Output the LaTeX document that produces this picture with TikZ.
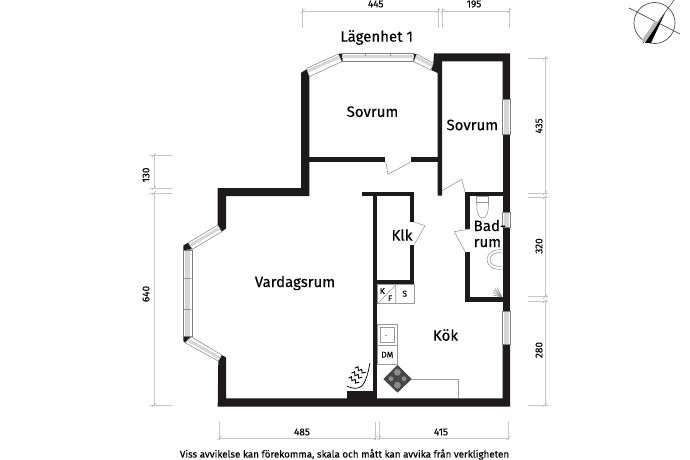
\documentclass[tikz,border=0pt]{standalone}
\usepackage{fontspec}
\setmainfont{Fira Sans}[FakeBold=0.25]
\definecolor{wallc}{HTML}{1C1A1B}
\definecolor{dimc}{HTML}{C6C6C6}
\tikzset{
 wall/.style={fill=wallc,draw=none},
 winframe/.style={fill=white,draw=black!50,line width=.5pt},
 winband/.style={draw=black!16,line width=3pt},
 fixture/.style={draw=black!40,line width=.6pt},
 doorleaf/.style={draw=black!40,line width=.6pt},
 dimline/.style={draw=dimc,line width=.9pt},
 tickmark/.style={draw=black!30,line width=.5pt},
 room/.style={font=\fontsize{15}{16}\selectfont,text=black,inner sep=0pt,align=center},
 dimtext/.style={font=\fontsize{10}{11}\selectfont,text=black,inner sep=0pt},
 small/.style={font=\fontsize{8.5}{9}\selectfont,text=black,inner sep=0pt},
 squig/.pic={\draw[black,line width=.9pt] (-6,-2.4) -- (-3,-3.8) -- (-2.6,.2) -- (.7,-1.2) -- (1.1,2.6) -- (4.8,1.7);}
}
\newcommand{\hslash}[2]{\draw[tickmark] (#1-2,#2+2) -- (#1+2,#2-2);}
\begin{document}
\begin{tikzpicture}[x=1pt,y=-1pt]
\useasboundingbox (0,0) rectangle (690,460);
% walls
\fill[wall] (301,72.7) -- (306.7,69.3) -- (309.3,76.7) -- (309.3,196) -- (226.2,196) -- (226.2,228.3) -- (221.7,231.7) -- (217.7,225) -- (217.7,188) -- (301,188) -- cycle;
\fill[wall] (309.3,157) rectangle (385,162);
\fill[wall] (411,157) rectangle (437.7,162);
\fill[wall] (434,53.5) -- (510,53.5) -- (510,99) -- (502.5,99) -- (502.5,61.5) -- (442,61.5) -- (442,195.7) -- (437.7,195.7) -- (437.7,73) -- (431,70) -- (433.3,63.3) -- cycle;
\fill[wall] (502.5,134) rectangle (510,212);
\fill[wall] (502.5,227) rectangle (510,311);
\fill[wall] (465.3,191.7) rectangle (502.5,195.9);
\fill[wall] (465.3,191.7) rectangle (470,229);
\fill[wall] (465.3,252) rectangle (470,302);
\fill[wall] (465.3,297.3) rectangle (502.5,302);
\fill[wall] (362,191.7) rectangle (414,196);
\fill[wall] (372.7,191.7) rectangle (377,398.5);
\fill[wall] (409.7,191.7) rectangle (414,222);
\fill[wall] (409.7,245) rectangle (414,284.5);
\fill[wall] (377,280) rectangle (414,284.5);
\fill[wall] (346.7,391) rectangle (377,398.5);
\fill[wall] (218.3,361) -- (221.7,355) -- (226.2,357.5) -- (226.2,398.4) -- (502.5,398.4) -- (502.5,344) -- (510,344) -- (510,406.5) -- (217.7,406.5) -- cycle;
% window wedges
\fill[wall] (338.3,53.7) -- (342,53.5) -- (342,61.7) -- cycle;
\fill[wall] (413.5,53.5) -- (417,54.5) -- (414,61.7) -- cycle;
\fill[wall] (183.3,245.5) -- (188.3,242.7) -- (192.3,249.3) -- (183.3,250) -- cycle;
\fill[wall] (183.3,335.7) -- (192.3,335.7) -- (191,343.3) -- (185,342.7) -- (183.3,341) -- cycle;
% windows
\draw[winframe] (342,53.5) rectangle (413.5,61.5);
\draw[winband] (342,56.5) -- (413.5,56.5);
\draw[black!40,line width=.5pt] (365,54) -- (365,56) (390,54) -- (390,56);
\draw[winframe] (306.7,68.3) -- (338.3,54) -- (341.7,61.7) -- (309.3,76.7) -- cycle;
\draw[winband] (308,71) -- (339.5,57);
\draw[winframe] (416.7,54) -- (433.3,63.3) -- (431,70) -- (413.8,61.7) -- cycle;
\draw[winband] (416,57) -- (432,65.5);
\draw[winframe] (502.5,99) rectangle (510,134);
\draw[black!16,line width=4.5pt] (506.5,99.5) -- (506.5,133.5);
\draw[winframe] (502.5,212) rectangle (510,227);
\draw[black!16,line width=4.5pt] (506.5,212.5) -- (506.5,226.5);
\draw[winframe] (502.5,311) rectangle (510,344);
\draw[black!16,line width=4.5pt] (506.5,311.5) -- (506.5,343.5);
\draw[winframe] (183.3,250) rectangle (192,336);
\draw[black!16,line width=4.5pt] (187.5,250.5) -- (187.5,335.5);
\draw[black!40,line width=.5pt] (184,278) -- (191,278) (184,309) -- (191,309);
\draw[winframe] (188.3,242.7) -- (217.7,225) -- (221.7,231.7) -- (192.3,249.3) -- cycle;
\draw[winband] (190,245.5) -- (219.5,228);
\draw[winframe] (185,342.7) -- (191,336.7) -- (221.7,355) -- (218.3,361) -- cycle;
\draw[winband] (188,340) -- (220,358);
% doors
\draw[doorleaf] (385.7,161.7) -- (388,174.3) -- (410.7,162);
\draw[doorleaf] (442,190.7) -- (461.7,179.3) -- (465,191.7);
\draw[doorleaf] (470,229) -- (454.3,231.7) -- (465.3,252);
\draw[doorleaf] (414,222) -- (425,225.7) -- (414,245);
% cabinets
\draw[fixture] (377,284.5) rectangle (414,303);
\draw[fixture] (395.7,284.5) -- (395.7,303) (378,303) -- (395.7,285);
\draw[fixture] (377,324) rectangle (397,345);
\draw[fixture] (380.7,327.7) rectangle (394.3,342.7);
\draw[fixture] (385,335) -- (387,335);
\draw[fixture] (377,345) rectangle (397,364);
\draw[fixture] (411,379) -- (458.7,379) -- (458.7,398.4);
\fill[black!72] (383.3,379) -- (397.5,365) -- (411.7,379) -- (397.5,392.7) -- cycle;
\fill[black!45] (397.4,372.3) circle (3.4) (397.4,385.2) circle (3.4) (391,378.7) circle (2.4) (404,378.7) circle (2.4);
% toilet, sink, shower
\draw[fixture] (476.7,196.7) rectangle (488.5,202);
\draw[fixture] (476.7,202) .. controls (476.7,212) and (478,218) .. (482.6,218) .. controls (487,218) and (488.5,212) .. (488.5,202);
\draw[fixture] (502.5,250) .. controls (494,248.5) and (487,253) .. (487,259.5) .. controls (487,266) and (494,270.5) .. (502.5,269);
\draw[fixture] (502.5,253) .. controls (495,251.5) and (490,255) .. (490,259.5) .. controls (490,264) and (495,267.5) .. (502.5,266);
\draw[fixture] (502,297) -- (493.5,290) (502,297) -- (495,288.5) (502,297) -- (497,287.5) (502,297) -- (493,292.5) (502,297) -- (493,295);
% fireplace
\draw[black,line width=.7pt] (346.7,386) .. controls (352,388.5) and (357,389.5) .. (361,386.5) .. controls (366,382.5) and (368,373) .. (370,363);
\pic at (354.5,380.5) {squig};
\pic at (357.5,375.5) {squig};
\pic at (361,370.5) {squig};
% texts
\node[room] (title) at (376.7,37.5) {Lägenhet 1};
\node[room] (sov1) at (372.5,111.7) {Sovrum};
\node[room] (sov2) at (472.3,125) {Sovrum};
\node[room] (klk) at (402,235) {Klk};
\node[room,align=left,anchor=west] (bad) at (473.5,233.5) {Bad-\\rum};
\node[room] (kok) at (445.5,335) {Kök};
\node[room] (vard) at (295,283) {Vardagsrum};
\node[small] (k) at (382.3,291) {K};
\node[small] (f) at (390,298.3) {F};
\node[small] (s) at (404.7,293.7) {S};
\node[small] (dm) at (387.3,354.7) {DM};
\node[font=\fontsize{9.8}{11}\selectfont,inner sep=0pt] (note) at (344.5,454.5) {Viss avvikelse kan förekomma, skala och mått kan avvika från verkligheten};
% top dimensions
\coordinate (t0) at (302.7,11); \coordinate (t1) at (438,11); \coordinate (t2) at (442.7,11); \coordinate (t3) at (509,11);
\draw[dimline] (t0) -- (t1) (t2) -- (t3);
\draw[dimline] (302.7,8) -- (302.7,28) (438,8) -- (438,28) (442.7,8) -- (442.7,28) (509,8) -- (509,28);
\hslash{302.7}{11}\hslash{438}{11}\hslash{442.7}{11}\hslash{509}{11}
\node[dimtext] (d445) at (375.7,4) {445};
\node[dimtext] (d195) at (474,4) {195};
% bottom dimensions
\coordinate (b0) at (219.5,438); \coordinate (b1) at (375.7,438); \coordinate (b2) at (379,438); \coordinate (b3) at (508.5,438);
\draw[dimline] (b0) -- (b1) (b2) -- (b3);
\draw[dimline] (219.5,422) -- (219.5,440) (375.7,422) -- (375.7,440) (379,422) -- (379,440) (508.5,422) -- (508.5,440);
\hslash{219.5}{438}\hslash{375.7}{438}\hslash{379}{438}\hslash{508.5}{438}
\node[dimtext] (d485) at (302,432) {485};
\node[dimtext] (d415) at (441,432) {415};
% left dimensions
\coordinate (l0) at (154,155); \coordinate (l1) at (154,188.3); \coordinate (l2) at (154,193); \coordinate (l3) at (154,405);
\draw[dimline] (l0) -- (l1) (l2) -- (l3);
\draw[dimline] (150,155) -- (172,155) (150,188.3) -- (172,188.3) (150,193) -- (172,193) (150,405) -- (172,405);
\hslash{154}{155}\hslash{154}{188.3}\hslash{154}{193}\hslash{154}{405}
\node[dimtext,rotate=90] (d130) at (146,175) {130};
\node[dimtext,rotate=90] (d640) at (146,294) {640};
% right dimensions
\coordinate (r0) at (545,58); \coordinate (r1) at (545,193.3); \coordinate (r2) at (545,197); \coordinate (r3) at (545,296.7); \coordinate (r4) at (545,301); \coordinate (r5) at (545,405);
\draw[dimline] (r0) -- (r1) (r2) -- (r3) (r4) -- (r5);
\draw[dimline] (528,58) -- (548,58) (528,193.3) -- (548,193.3) (528,197) -- (548,197) (528,296.7) -- (548,296.7) (528,301) -- (548,301) (528,405) -- (548,405);
\hslash{545}{58}\hslash{545}{193.3}\hslash{545}{197}\hslash{545}{296.7}\hslash{545}{301}\hslash{545}{405}
\node[dimtext,rotate=90] (d435) at (539,126) {435};
\node[dimtext,rotate=90] (d320) at (539,246) {320};
\node[dimtext,rotate=90] (d280) at (539,350) {280};
% north arrow
\draw[black!70,line width=.7pt] (654.5,23) circle (20.5);
\draw[black!70,line width=.7pt] (629,8) -- (680,34);
\draw[black!70,line width=.6pt] (674,0) -- (642.7,43.5);
\fill[black!28] (641.7,40.5) -- (645.5,43) -- (658,22) -- (655,21) -- cycle;
\fill[black] (645,43) -- (651,43) -- (665,13) -- cycle;
\end{tikzpicture}
\end{document}
